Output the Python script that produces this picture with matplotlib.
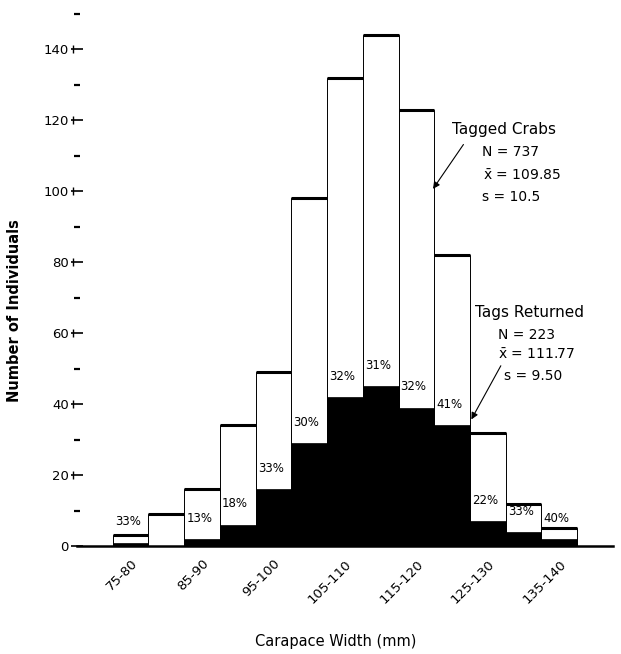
import matplotlib
matplotlib.use("Agg")
import matplotlib.pyplot as plt
import matplotlib.transforms as mtransforms
import numpy as np

#------------------DATA------------------#

bin_left = [75, 80, 85, 90, 95, 100, 105, 110, 115, 120, 125, 130, 135]
tagged = [3, 9, 16, 34, 49, 98, 132, 144, 123, 82, 32, 12, 5]
returned = [1, 0, 2, 6, 16, 29, 42, 45, 39, 34, 7, 4, 2]
pct = ["33%", "", "13%", "18%", "33%", "30%", "32%", "31%", "32%", "41%", "22%", "33%", "40%"]

xtick_pos = [77.5, 87.5, 97.5, 107.5, 117.5, 127.5, 137.5]
xtick_lab = ["75-80", "85-90", "95-100", "105-110", "115-120", "125-130", "135-140"]

#----------------------------------------#

fig = plt.figure(figsize=(6.21, 6.54), dpi=100)
ax = fig.add_axes([0.124, 0.165, 0.863, 0.814])

w = 5
ax.bar(bin_left, tagged, width=w, align="edge", color="white",
       edgecolor="black", linewidth=0.7, zorder=2)
ax.hlines(tagged, bin_left, np.array(bin_left) + w, color="black", linewidth=2.2, zorder=3)
ax.bar(bin_left, returned, width=w, align="edge", color="black",
       edgecolor="black", linewidth=0.5, zorder=4)

for xl, r, p in zip(bin_left, returned, pct):
    if p:
        ax.annotate(p, xy=(xl, r), xytext=(1.5, 15), textcoords="offset points",
                    ha="left", va="center", fontsize=8.5, zorder=5)

ax.set_xlim(70, 145)
ax.set_ylim(0, 150)

# axes look
for s in ["top", "right", "left"]:
    ax.spines[s].set_visible(False)
ax.spines["bottom"].set_linewidth(1.8)

ax.set_yticks(range(0, 141, 20))
ax.set_yticks(range(10, 151, 20), minor=True)
ax.tick_params(axis="y", which="major", direction="inout", length=8, width=1.2,
               labelsize=9.5, pad=2)
ax.tick_params(axis="y", which="minor", direction="inout", length=4, width=1.6)

# little vertical bars of the major ticks
trans = mtransforms.offset_copy(ax.get_yaxis_transform(), fig=fig, x=-4.5, y=0, units="dots")
ax.plot([0] * 7, range(20, 141, 20), linestyle="none", marker="|", markersize=6,
        markeredgewidth=1.0, color="black", transform=trans, clip_on=False)

ax.set_xticks(xtick_pos)
ax.set_xticklabels(xtick_lab, rotation=45, ha="right", rotation_mode="anchor", fontsize=9.5)
ax.tick_params(axis="x", length=0, pad=8)

ax.set_xlabel("Carapace Width (mm)", fontsize=10.5)
ax.xaxis.set_label_coords(0.483, -0.166)
ax.set_ylabel("Number of Individuals", fontsize=10.5, fontweight="bold")
ax.yaxis.set_label_coords(-0.103, 0.443)

# legends / stats
xbar = r"$\bar{\mathrm{x}}$"
ax.text(122.5, 117.5, "Tagged Crabs", fontsize=11, va="center", ha="left")
ax.text(126.7, 111, "N = 737", fontsize=10, va="center", ha="left")
ax.text(126.8, 104.5, xbar + " = 109.85", fontsize=10, va="center", ha="left")
ax.text(126.7, 98.3, "s = 10.5", fontsize=10, va="center", ha="left")
ax.annotate("", xy=(119.6, 100), xytext=(124.3, 113.8),
            arrowprops=dict(arrowstyle="-|>", color="black", lw=0.8, mutation_scale=10))

ax.text(125.7, 65.9, "Tags Returned", fontsize=11, va="center", ha="left")
ax.text(128.9, 59.4, "N = 223", fontsize=10, va="center", ha="left")
ax.text(128.9, 54.0, xbar + " = 111.77", fontsize=10, va="center", ha="left")
ax.text(129.7, 48.0, "s = 9.50", fontsize=10, va="center", ha="left")
ax.annotate("", xy=(125, 35), xytext=(129.5, 51.5),
            arrowprops=dict(arrowstyle="-|>", color="black", lw=0.8, mutation_scale=10))

plt.savefig("out.png", dpi=100)
